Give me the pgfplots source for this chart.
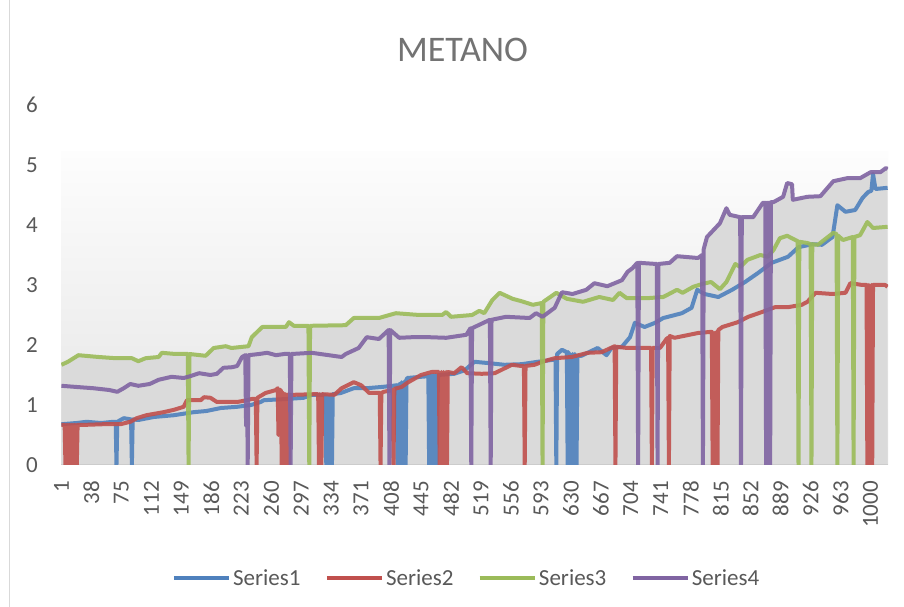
\documentclass[border=0pt]{standalone}
\usepackage{fontspec}
\setmainfont{Carlito}
\usepackage{pgfplots}
\pgfplotsset{compat=1.18}
\definecolor{sA}{HTML}{4F81BD}
\definecolor{sB}{HTML}{C0504D}
\definecolor{sC}{HTML}{9BBB59}
\definecolor{sD}{HTML}{8064A2}
\definecolor{txt}{HTML}{595959}
\definecolor{titlec}{HTML}{737373}
\definecolor{dropgray}{HTML}{DADADA}
\definecolor{gradtop}{HTML}{FDFDFD}
\definecolor{gradbot}{HTML}{E4E4E4}
\definecolor{axisc}{HTML}{CCCCCC}
\definecolor{borderc}{HTML}{D9D9D9}
\begin{document}
\begin{tikzpicture}
\useasboundingbox (0pt,0pt) rectangle (904pt,607pt);
\fill[white] (0pt,0pt) rectangle (904pt,607pt);
\draw[borderc, line width=1pt] (9pt,0pt) -- (9pt,607pt);
\node[anchor=base, font=\fontsize{36}{40}\selectfont, text=titlec, inner sep=0pt] at (462.5pt,545.3pt) {METANO};
\begin{axis}[
  at={(61pt,142pt)}, anchor=south west, scale only axis,
  width=827pt, height=360pt,
  xmin=0.5, xmax=1021.5, ymin=0, ymax=6,
  axis line style={draw=none}, tick style={draw=none},
  ytick={0,1,2,3,4,5,6},
  xtick={1,38,75,112,149,186,223,260,297,334,371,408,445,482,519,556,593,630,667,704,741,778,815,852,889,926,963,1000},
  xticklabels={1,38,75,112,149,186,223,260,297,334,371,408,445,482,519,556,593,630,667,704,741,778,815,852,889,926,963,1000},
  /pgf/number format/assume math mode=true,
  ticklabel style={font=\fontsize{23}{26}\selectfont, text=txt},
  yticklabel style={anchor=east, inner sep=0pt},
  yticklabel shift=23pt,
  xticklabel style={rotate=90, anchor=east, inner sep=0pt},
  xticklabel shift=16pt,
  legend columns=4,
  legend style={at={(0.4903,-0.3139)}, anchor=center, draw=none, fill=none,
    font=\fontsize{23}{26}\selectfont, text=txt,
    nodes={inner sep=2pt},
    /tikz/every even column/.append style={column sep=22pt}},
  legend image code/.code={\draw[#1, line width=4.5pt, opacity=1] (0pt,0pt) -- (55pt,0pt);},
  every axis plot/.append style={line width=4pt, line join=round, opacity=0.9},
]
\fill[top color=gradtop, bottom color=gradbot] (axis cs:0.5,0) rectangle (axis cs:1021.5,5.23);
\addplot[forget plot, draw=none, fill=dropgray, opacity=1] coordinates {
(1,1.67) (9,1.72) (22,1.83) (47,1.80) (68,1.78) (88,1.78) (96,1.73) (105,1.78) (121,1.80) (125,1.87) (142,1.85) (179,1.82) (189,1.95) (204,1.98) (211,1.95) (232,1.98) (236,2.13) (249,2.30) (278,2.30) (282,2.38) (288,2.32) (352,2.33) (362,2.45) (393,2.45) (406,2.5) (414,2.53) (443,2.5) (471,2.5) (476,2.55) (482,2.47) (508,2.5) (517,2.57) (523,2.53) (533,2.75) (542,2.87) (558,2.77) (569,2.73) (583,2.67) (596,2.72) (612,2.87) (619,2.88) (632,2.85) (649,2.92) (659,3.03) (675,2.98) (693,3.08) (700,3.22) (706,3.28) (712,3.37) (736,3.35) (752,3.37) (761,3.48) (787,3.45) (792,3.5) (798,3.80) (814,4.03) (822,4.28) (826,4.17) (839,4.13) (855,4.13) (867,4.37) (880,4.38) (892,4.47) (897,4.70) (903,4.68) (904,4.42) (922,4.47) (938,4.48) (954,4.73) (971,4.78) (987,4.78) (1000,4.88) (1012,4.88) (1019,4.95) (1021,4.93)
} \closedcycle;
\draw[axisc, line width=1.2pt] (axis cs:0.5,0) -- (axis cs:1021.5,0);
\addplot[sA] coordinates {
(1,0.68) (20,0.70) (32,0.72) (50,0.70) (65,0.72) (68,0.72) (69,0) (70,0.72) (78,0.78) (87,0.76) (88,0) (89,0.76) (96,0.75) (115,0.80) (140,0.83) (164,0.88) (180,0.90) (198,0.95) (218,0.97) (235,1.0) (247,1.05) (251,1.08) (279,1.10) (300,1.12) (310,1.17) (327,1.17) (328,0) (330,1.15) (331,0) (334,1.17) (335,0) (336,1.18) (346,1.2) (362,1.28) (378,1.28) (396,1.3) (410,1.32) (415,1.33) (416,0) (418,1.35) (419,0) (421,1.38) (422,0) (425,1.4) (426,0) (427,1.42) (428,1.45) (445,1.47) (454,1.48) (455,0) (457,1.5) (458,0) (460,1.5) (461,0) (463,1.5) (464,0) (466,1.5) (486,1.52) (499,1.58) (511,1.72) (527,1.70) (548,1.67) (569,1.68) (589,1.72) (606,1.75) (611,1.75) (612,0) (613,1.85) (619,1.92) (625,1.88) (626,0) (627,1.88) (628,0.6) (629,1.85) (631,0) (632,1.85) (634,0) (635,1.85) (637,0) (638,1.82) (643,1.82) (663,1.95) (674,1.83) (680,1.95) (693,1.97) (703,2.13) (709,2.37) (721,2.30) (734,2.37) (744,2.45) (750,2.47) (767,2.53) (779,2.62) (786,2.92) (795,2.85) (812,2.80) (829,2.92) (845,3.05) (861,3.20) (878,3.37) (898,3.47) (911,3.63) (928,3.68) (940,3.67) (953,3.80) (959,4.33) (969,4.22) (981,4.25) (990,4.45) (997,4.55) (1001,4.57) (1003,4.85) (1006,4.6) (1021,4.62)
};
\addlegendentry{Series1}
\addplot[sB] coordinates {
(1,0.67) (5,0.67) (6,0) (7,0.67) (8,0) (9,0.67) (10,0) (11,0.67) (12,0) (13,0.67) (14,0) (15,0.67) (16,0) (17,0.67) (18,0) (19,0.67) (20,0) (21,0.67) (24,0.67) (32,0.67) (53,0.68) (74,0.68) (86,0.72) (94,0.78) (106,0.83) (127,0.88) (140,0.92) (152,0.97) (156,1.08) (173,1.08) (177,1.13) (185,1.12) (193,1.05) (218,1.05) (230,1.08) (236,1.10) (241,1.10) (242,0) (243,1.12) (253,1.2) (266,1.25) (268,1.28) (269,0.5) (270,1.25) (272,1.25) (273,0) (275,1.2) (276,0) (278,1.18) (279,0) (281,1.18) (282,0) (283,1.17) (288,1.17) (313,1.18) (318,1.18) (319,0) (320,1.18) (322,0) (323,1.18) (338,1.17) (347,1.28) (362,1.38) (371,1.33) (381,1.2) (394,1.2) (395,0) (396,1.2) (399,1.22) (410,1.25) (411,0) (412,1.27) (421,1.3) (428,1.37) (445,1.5) (458,1.55) (467,1.55) (468,0) (470,1.55) (471,0) (473,1.55) (474,0) (476,1.55) (477,0) (478,1.55) (486,1.53) (495,1.63) (502,1.53) (520,1.52) (536,1.53) (557,1.67) (569,1.65) (572,1.65) (573,0) (574,1.65) (585,1.67) (597,1.73) (610,1.78) (631,1.80) (651,1.87) (668,1.88) (684,1.98) (685,0) (686,1.97) (700,1.95) (721,1.95) (729,1.95) (730,0) (731,1.95) (740,1.95) (748,2.1) (750,2.12) (751,0) (752,2.15) (758,2.12) (787,2.2) (804,2.22) (805,0) (807,2.2) (808,0) (810,2.22) (811,0) (812,2.25) (817,2.3) (836,2.38) (849,2.47) (866,2.55) (882,2.63) (898,2.63) (915,2.67) (922,2.72) (932,2.87) (953,2.85) (969,2.87) (975,3.03) (990,3.0) (995,3.0) (996,0) (998,3.0) (999,0) (1001,3.0) (1002,0) (1003,3.0) (1018,3.0) (1021,2.97)
};
\addlegendentry{Series2}
\addplot[sC] coordinates {
(1,1.67) (9,1.72) (22,1.83) (47,1.80) (68,1.78) (88,1.78) (96,1.73) (105,1.78) (121,1.80) (125,1.87) (142,1.85) (157,1.85) (158,0) (159,1.85) (179,1.82) (189,1.95) (204,1.98) (211,1.95) (232,1.98) (236,2.13) (249,2.30) (278,2.30) (282,2.38) (288,2.32) (306,2.32) (307,0) (308,2.32) (352,2.33) (362,2.45) (393,2.45) (406,2.5) (414,2.53) (443,2.5) (471,2.5) (476,2.55) (482,2.47) (508,2.5) (517,2.57) (523,2.53) (533,2.75) (542,2.87) (558,2.77) (569,2.73) (583,2.67) (594,2.7) (595,0) (596,2.72) (612,2.87) (625,2.77) (645,2.72) (665,2.8) (682,2.75) (690,2.87) (699,2.78) (724,2.78) (744,2.80) (761,2.92) (768,2.87) (781,2.97) (793,3.02) (803,3.05) (814,2.93) (822,3.05) (833,3.35) (839,3.30) (848,3.42) (864,3.50) (873,3.47) (880,3.58) (888,3.78) (897,3.82) (907,3.75) (910,3.73) (911,0) (912,3.72) (922,3.70) (926,3.68) (927,0) (928,3.68) (935,3.67) (954,3.87) (958,3.85) (959,0) (960,3.82) (966,3.75) (978,3.8) (979,0) (980,3.8) (987,3.83) (996,4.05) (1003,3.95) (1021,3.97)
};
\addlegendentry{Series3}
\addplot[sD] coordinates {
(1,1.32) (20,1.30) (40,1.28) (60,1.25) (70,1.22) (78,1.28) (86,1.35) (96,1.32) (110,1.35) (121,1.42) (137,1.47) (152,1.45) (160,1.48) (171,1.53) (185,1.50) (193,1.52) (201,1.62) (212,1.63) (218,1.65) (224,1.80) (228,1.83) (229,0.65) (230,1.83) (231,0) (232,1.83) (245,1.85) (255,1.87) (266,1.83) (276,1.85) (283,1.85) (284,0) (285,1.85) (310,1.87) (347,1.80) (352,1.85) (368,1.95) (378,2.13) (393,2.10) (405,2.25) (406,0) (407,2.25) (418,2.12) (434,2.13) (455,2.13) (476,2.12) (501,2.17) (506,2.28) (507,0) (508,2.28) (530,2.42) (531,0) (532,2.42) (550,2.47) (579,2.45) (587,2.53) (595,2.47) (610,2.62) (619,2.88) (632,2.85) (649,2.92) (659,3.03) (675,2.98) (693,3.08) (700,3.22) (706,3.28) (712,3.37) (713,0) (714,3.37) (736,3.35) (737,0) (738,3.35) (752,3.37) (761,3.48) (787,3.45) (792,3.5) (793,0) (794,3.6) (798,3.80) (814,4.03) (822,4.28) (826,4.17) (839,4.13) (840,0) (841,4.13) (855,4.13) (867,4.37) (870,4.37) (871,0) (872,4.37) (875,4.37) (876,0) (877,4.38) (880,4.38) (892,4.47) (897,4.70) (903,4.68) (904,4.42) (922,4.47) (938,4.48) (954,4.73) (971,4.78) (987,4.78) (1000,4.88) (1012,4.88) (1019,4.95) (1021,4.93)
};
\addlegendentry{Series4}
\end{axis}
\end{tikzpicture}
\end{document}
